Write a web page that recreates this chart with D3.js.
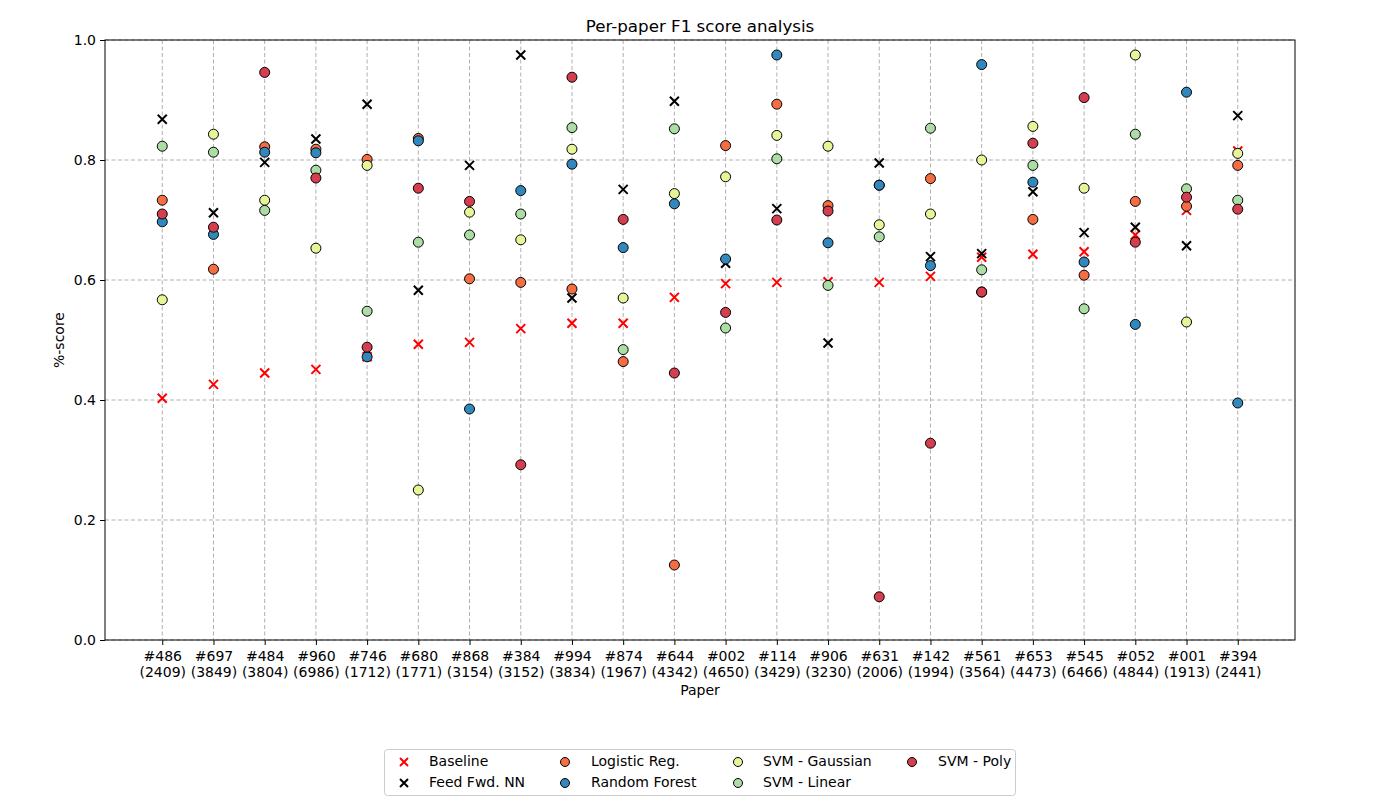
<!DOCTYPE html>
<html>
<head>
<meta charset="utf-8">
<script src="https://cdn.jsdelivr.net/npm/d3@7"></script>
<style>
  body { margin: 0; background: #fff; }
  svg { font-family: "DejaVu Sans", sans-serif; }
</style>
</head>
<body>
<svg width="1400" height="800"></svg>
<script>
// Papers (id and size) along the x axis
var papers = ['#486','#697','#484','#960','#746','#680','#868','#384','#994','#874','#644',
              '#002','#114','#906','#631','#142','#561','#653','#545','#052','#001','#394'];
var sizes = ['2409','3849','3804','6986','1712','1771','3154','3152','3834','1967','4342',
             '4650','3429','3230','2006','1994','3564','4473','6466','4844','1913','2441'];

// F1 scores per classifier
var baseline = [0.403,0.426,0.445,0.451,0.472,0.493,0.496,0.519,0.528,0.528,0.571,
                0.594,0.596,0.597,0.596,0.606,0.638,0.643,0.647,0.675,0.716,0.815];
var ffnn     = [0.868,0.712,0.796,0.835,0.893,0.583,0.791,0.975,0.570,0.751,0.898,
                0.628,0.719,0.495,0.795,0.639,0.644,0.747,0.679,0.688,0.657,0.874];
var logistic = [0.733,0.618,0.822,0.818,0.801,0.836,0.602,0.596,0.585,0.464,0.125,
                0.824,0.893,0.724,0.758,0.769,0.580,0.701,0.608,0.731,0.723,0.791];
var forest   = [0.697,0.676,0.813,0.812,0.472,0.832,0.385,0.749,0.793,0.654,0.727,
                0.635,0.975,0.662,0.758,0.624,0.959,0.763,0.630,0.526,0.913,0.395];
var gaussian = [0.567,0.843,0.733,0.653,0.791,0.250,0.713,0.667,0.818,0.570,0.744,
                0.772,0.841,0.823,0.692,0.710,0.800,0.856,0.753,0.975,0.530,0.811];
var linear   = [0.823,0.813,0.716,0.783,0.548,0.663,0.675,0.710,0.854,0.484,0.852,
                0.520,0.802,0.591,0.672,0.853,0.617,0.791,0.552,0.843,0.752,0.733];
var poly     = [0.710,0.688,0.946,0.770,0.488,0.753,0.731,0.292,0.938,0.701,0.445,
                0.546,0.700,0.715,0.072,0.328,0.580,0.828,0.904,0.663,0.738,0.718];

var yTicks = [0.0, 0.2, 0.4, 0.6, 0.8, 1.0];

var series = [
  { name: 'Baseline',       values: baseline, shape: 'x', color: '#ff0000' },
  { name: 'Feed Fwd. NN',   values: ffnn,     shape: 'x', color: '#000000' },
  { name: 'Logistic Reg.',  values: logistic, shape: 'o', color: '#f46d43' },
  { name: 'Random Forest',  values: forest,   shape: 'o', color: '#3288bd' },
  { name: 'SVM - Gaussian', values: gaussian, shape: 'o', color: '#e6f598' },
  { name: 'SVM - Linear',   values: linear,   shape: 'o', color: '#abdda4' },
  { name: 'SVM - Poly',     values: poly,     shape: 'o', color: '#d53e4f' }
];

var svg = d3.select('svg');
// plot box
var pLeft = 105, pRight = 1295, pTop = 40, pBottom = 640;

var x = d3.scaleLinear().domain([-1.118, papers.length - 1 + 1.118]).range([pLeft, pRight]);
var y = d3.scaleLinear().domain([0, 1]).range([pBottom, pTop]);

// grid
var grid = svg.append('g');
grid.selectAll('line.vg').data(papers).enter().append('line')
    .attr('x1', function(d, i) { return x(i); })
    .attr('x2', function(d, i) { return x(i); })
    .attr('y1', pTop).attr('y2', pBottom)
    .attr('stroke', '#b0b0b0').attr('stroke-width', 1).attr('stroke-dasharray', '4,2.5');
grid.selectAll('line.hg').data(yTicks).enter().append('line')
    .attr('x1', pLeft).attr('x2', pRight)
    .attr('y1', function(d) { return y(d); })
    .attr('y2', function(d) { return y(d); })
    .attr('stroke', '#b0b0b0').attr('stroke-width', 1).attr('stroke-dasharray', '4,2.5');

// axes
var yAxis = svg.append('g').attr('transform', 'translate(' + pLeft + ',0)')
    .call(d3.axisLeft(y).tickValues(yTicks).tickFormat(d3.format('.1f')).tickSizeOuter(0).tickSize(5).tickPadding(4));
yAxis.attr('font-family', 'DejaVu Sans').attr('font-size', 14);
yAxis.select('.domain').remove();
yAxis.selectAll('text').attr('fill', '#000');

var xAxis = svg.append('g').attr('transform', 'translate(0,' + pBottom + ')')
    .call(d3.axisBottom(x).tickValues(d3.range(papers.length)).tickSizeOuter(0).tickSize(5).tickFormat(''));
xAxis.attr('font-family', 'DejaVu Sans').attr('font-size', 14);
xAxis.select('.domain').remove();
xAxis.selectAll('.tick').append('text')
    .attr('fill', '#000').attr('text-anchor', 'middle')
    .each(function(d) {
        var t = d3.select(this);
        t.append('tspan').attr('x', 0).attr('y', 21).text(papers[d]);
        t.append('tspan').attr('x', 0).attr('y', 37).text('(' + sizes[d] + ')');
    });

// frame
svg.append('rect').attr('x', pLeft).attr('y', pTop)
    .attr('width', pRight - pLeft).attr('height', pBottom - pTop)
    .attr('fill', 'none').attr('stroke', '#000').attr('stroke-width', 1);

// marker helpers
function drawX(g, size, color) {
    g.append('path')
        .attr('d', 'M' + (-size) + ',' + (-size) + 'L' + size + ',' + size +
                   'M' + (-size) + ',' + size + 'L' + size + ',' + (-size))
        .attr('stroke', color).attr('stroke-width', 2).attr('fill', 'none');
}
function drawO(g, r, color) {
    g.append('circle').attr('r', r).attr('fill', color)
        .attr('stroke', '#000').attr('stroke-width', 1);
}

// points, one group per classifier
series.forEach(function(s) {
    var pts = svg.append('g').selectAll('g').data(s.values).enter().append('g')
        .attr('transform', function(d, i) { return 'translate(' + x(i) + ',' + y(d) + ')'; });
    pts.each(function() {
        if (s.shape === 'x') drawX(d3.select(this), 4.5, s.color);
        else drawO(d3.select(this), 5, s.color);
    });
});

// labels
svg.append('text').attr('x', (pLeft + pRight) / 2).attr('y', 32)
    .attr('text-anchor', 'middle').attr('font-size', 16.7).text('Per-paper F1 score analysis');
svg.append('text').attr('x', (pLeft + pRight) / 2).attr('y', 695)
    .attr('text-anchor', 'middle').attr('font-size', 14).text('Paper');
svg.append('text').attr('transform', 'translate(64,' + ((pTop + pBottom) / 2) + ') rotate(-90)')
    .attr('text-anchor', 'middle').attr('font-size', 14).text('%-score');

// legend
var legend = svg.append('g');
legend.append('rect').attr('x', 384.5).attr('y', 749.5).attr('width', 631).attr('height', 46)
    .attr('rx', 3).attr('fill', '#fff').attr('stroke', '#cccccc');
var markX = [404, 565, 738, 912];
var textX = [429, 591, 763, 938];
var rowY = [762, 783];
series.forEach(function(s, i) {
    var c = Math.floor(i / 2), r = i % 2;
    var g = legend.append('g').attr('transform', 'translate(' + markX[c] + ',' + rowY[r] + ')');
    if (s.shape === 'x') drawX(g, 4, s.color);
    else drawO(g, 4.5, s.color);
    legend.append('text').attr('x', textX[c]).attr('y', rowY[r] + 4)
        .attr('font-size', 14).text(s.name);
});
</script>
</body>
</html>
